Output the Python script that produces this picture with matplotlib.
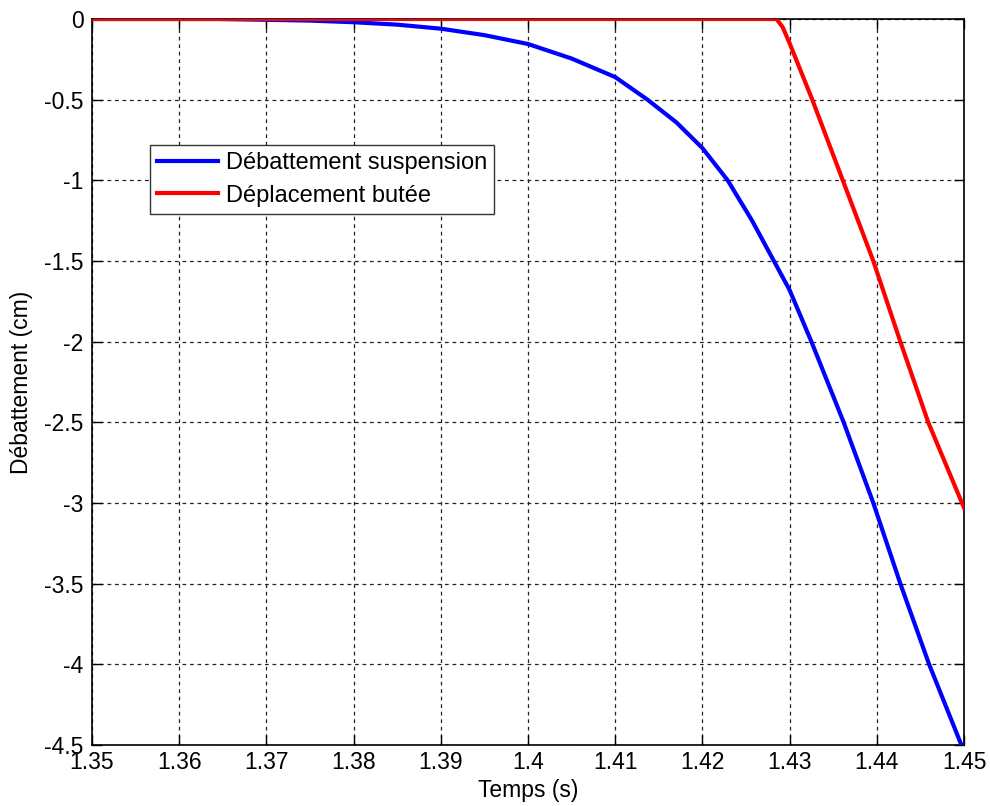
import numpy as np
import matplotlib
matplotlib.use("Agg")
import matplotlib.pyplot as plt

plt.rcParams['font.family'] = ['Liberation Sans', 'DejaVu Sans']

# Data
t_susp = [1.35, 1.3645, 1.37, 1.375, 1.38, 1.385, 1.39, 1.395, 1.40, 1.405,
          1.41, 1.4137, 1.417, 1.42, 1.4229, 1.4257, 1.4282, 1.43, 1.4325,
          1.4362, 1.4396, 1.4427, 1.4460, 1.4497]
d_susp = [0.0, 0.0, -0.005, -0.01, -0.02, -0.035, -0.06, -0.10, -0.155, -0.245,
          -0.36, -0.5, -0.64, -0.80, -1.0, -1.25, -1.5, -1.68, -2.0,
          -2.5, -3.0, -3.5, -4.0, -4.5]

t_butee = [1.35, 1.4285, 1.4292, 1.43, 1.4326, 1.4361, 1.4396, 1.4427, 1.4459, 1.45]
d_butee = [0.0, 0.0, -0.05, -0.15, -0.5, -1.0, -1.5, -2.0, -2.5, -3.03]

xticks = [1.35, 1.36, 1.37, 1.38, 1.39, 1.40, 1.41, 1.42, 1.43, 1.44, 1.45]
xticklabels = ['1.35', '1.36', '1.37', '1.38', '1.39', '1.4', '1.41', '1.42', '1.43', '1.44', '1.45']
yticks = [0, -0.5, -1, -1.5, -2, -2.5, -3, -3.5, -4, -4.5]
yticklabels = ['0', '-0.5', '-1', '-1.5', '-2', '-2.5', '-3', '-3.5', '-4', '-4.5']

fig = plt.figure(figsize=(9.9, 8.06), dpi=100)
ax = fig.add_axes([92/990, 1 - 745/806, 872/990, 726/806])

ax.plot(t_susp, d_susp, color='#0000ff', lw=3, label='Débattement suspension', zorder=3,
        solid_joinstyle='round')
ax.plot(t_butee, d_butee, color='#ff0000', lw=3, label='Déplacement butée', zorder=4,
        solid_joinstyle='round')

ax.set_xlim(1.35, 1.45)
ax.set_ylim(-4.5, 0)
ax.set_xticks(xticks)
ax.set_xticklabels(xticklabels)
ax.set_yticks(yticks)
ax.set_yticklabels(yticklabels)
ax.tick_params(direction='in', length=7, width=1, top=True, right=True,
               labelsize=16.5, pad=4)
ax.tick_params(axis='y', pad=6)
ax.grid(True, color='#222222', linestyle=(0, (3, 3)), linewidth=0.9)
for s in ax.spines.values():
    s.set_linewidth(1.2)

ax.set_xlabel('Temps (s)', fontsize=16.5, labelpad=4)
ax.set_ylabel('Débattement (cm)', fontsize=16.5, labelpad=8)

leg = ax.legend(loc='upper left', bbox_to_anchor=((150 - 92) / 872, (745 - 145) / 726),
                fontsize=17, frameon=True, fancybox=False, framealpha=1,
                edgecolor='#333333', handlelength=2.6, borderpad=0.3,
                labelspacing=0.45, handletextpad=0.3, borderaxespad=0)
leg.get_frame().set_linewidth(1.0)

fig.savefig('out.png', dpi=100)
